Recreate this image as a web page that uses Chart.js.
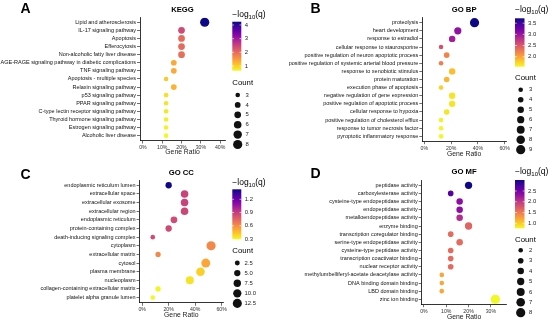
<!DOCTYPE html>
<html>
<head>
<meta charset="utf-8">
<script src="https://cdn.jsdelivr.net/npm/chart.js@4.4.1/dist/chart.umd.min.js"></script>
<style>
  html, body { margin: 0; padding: 0; background: #fff; }
  #wrap { position: relative; width: 550px; height: 323px; overflow: hidden; }
  canvas { position: absolute; }
</style>
</head>
<body>
<div id="wrap">
  <canvas id="cA" width="275" height="161" style="left:0;top:0"></canvas>
  <canvas id="cB" width="275" height="161" style="left:275px;top:0"></canvas>
  <canvas id="cC" width="275" height="162" style="left:0;top:161px"></canvas>
  <canvas id="cD" width="275" height="162" style="left:275px;top:161px"></canvas>
</div>
<script>
// ---- KEGG ----
const keggTerms = ['Lipid and atherosclerosis', 'IL-17 signaling pathway', 'Apoptosis', 'Efferocytosis',
  'Non-alcoholic fatty liver disease', 'AGE-RAGE signaling pathway in diabetic complications', 'TNF signaling pathway',
  'Apoptosis - multiple species', 'Relaxin signaling pathway', 'p53 signaling pathway', 'PPAR signaling pathway',
  'C-type lectin receptor signaling pathway', 'Thyroid hormone signaling pathway', 'Estrogen signaling pathway',
  'Alcoholic liver disease'];
const keggRatio = [0.32, 0.20, 0.20, 0.20, 0.20, 0.16, 0.16, 0.12, 0.16, 0.12, 0.12, 0.12, 0.12, 0.12, 0.12];
const keggCount = [8, 5, 5, 5, 5, 4, 4, 3, 4, 3, 3, 3, 3, 3, 3];
const keggLogQ = [4.24, 2.4, 2.0, 2.0, 1.95, 1.35, 1.35, 1.05, 1.25, 0.85, 0.82, 0.78, 0.74, 0.70, 0.656];
const keggXTicks = [0, 0.1, 0.2, 0.3, 0.4];
const keggQTicks = [1, 2, 3, 4];
const keggCountBreaks = [3, 4, 5, 6, 7, 8];

// ---- GO BP ----
const bpTerms = ['proteolysis', 'heart development', 'response to estradiol', 'cellular response to staurosporine',
  'positive regulation of neuron apoptotic process', 'positive regulation of systemic arterial blood pressure',
  'response to xenobiotic stimulus', 'protein maturation', 'execution phase of apoptosis',
  'negative regulation of gene expression', 'positive regulation of apoptotic process', 'cellular response to hypoxia',
  'positive regulation of cholesterol efflux', 'response to tumor necrosis factor', 'pyroptotic inflammatory response'];
const bpRatio = [0.375, 0.25, 0.208, 0.125, 0.167, 0.125, 0.208, 0.167, 0.125, 0.208, 0.208, 0.167, 0.125, 0.125, 0.125];
const bpCount = [9, 6, 5, 3, 4, 3, 5, 4, 3, 5, 5, 4, 3, 3, 3];
const bpLogQ = [3.72, 3.05, 2.95, 2.55, 2.2, 2.25, 1.85, 1.9, 1.75, 1.65, 1.65, 1.65, 1.58, 1.56, 1.55];
const bpXTicks = [0, 0.2, 0.4, 0.6];
const bpQTicks = [2.0, 2.5, 3.0, 3.5];
const bpCountBreaks = [3, 4, 5, 6, 7, 8, 9];

// ---- GO CC ----
const ccTerms = ['endoplasmic reticulum lumen', 'extracellular space', 'extracellular exosome', 'extracellular region',
  'endoplasmic reticulum', 'protein-containing complex', 'death-inducing signaling complex', 'cytoplasm',
  'extracellular matrix', 'cytosol', 'plasma membrane', 'nucleoplasm', 'collagen-containing extracellular matrix',
  'platelet alpha granule lumen'];
const ccRatio = [0.20, 0.32, 0.32, 0.32, 0.24, 0.20, 0.08, 0.52, 0.12, 0.48, 0.44, 0.36, 0.12, 0.08];
const ccCount = [5, 8, 8, 8, 6, 5, 2, 13, 3, 12, 11, 9, 3, 2];
const ccLogQ = [1.427, 0.87, 0.87, 0.86, 0.84, 0.85, 0.84, 0.62, 0.62, 0.52, 0.40, 0.35, 0.30, 0.293];
const ccXTicks = [0, 0.2, 0.4, 0.6];
const ccQTicks = [0.3, 0.6, 0.9, 1.2];
const ccCountBreaks = [2.5, 5, 7.5, 10, 12.5];

// ---- GO MF ----
const mfTerms = ['peptidase activity', 'carboxylesterase activity', 'cysteine-type endopeptidase activity',
  'endopeptidase activity', 'metalloendopeptidase activity', 'enzyme binding', 'transcription coregulator binding',
  'serine-type endopeptidase activity', 'cysteine-type peptidase activity', 'transcription coactivator binding',
  'nuclear receptor activity', 'methylumbelliferyl-acetate deacetylase activity', 'DNA binding domain binding',
  'LBD domain binding', 'zinc ion binding'];
const mfRatio = [0.20, 0.12, 0.16, 0.16, 0.16, 0.20, 0.12, 0.16, 0.12, 0.12, 0.12, 0.08, 0.08, 0.08, 0.32];
const mfCount = [5, 3, 4, 4, 4, 5, 3, 4, 3, 3, 3, 2, 2, 2, 8];
const mfLogQ = [3.01, 2.67, 2.34, 2.34, 2.1, 1.67, 1.62, 1.62, 1.62, 1.62, 1.62, 1.22, 1.22, 1.22, 0.77];
const mfXTicks = [0, 0.1, 0.2, 0.3];
const mfQTicks = [1.0, 1.5, 2.0, 2.5];
const mfCountBreaks = [2, 3, 4, 5, 6, 7, 8];

const FONT = 'Liberation Sans, Arial, Helvetica, sans-serif';
const R_MIN = 2.3, R_MAX = 4.6;

// plasma colour map
const plasmaStops = ['#0d0887', '#41049d', '#6a00a8', '#8f0da4', '#b12a90', '#cc4778',
  '#e16462', '#f2844b', '#fca636', '#fcce25', '#f0f921'];

function hexToRgb(h) {
  return [parseInt(h.slice(1, 3), 16), parseInt(h.slice(3, 5), 16), parseInt(h.slice(5, 7), 16)];
}

function plasma(t) {
  t = Math.max(0, Math.min(1, t));
  const p = t * (plasmaStops.length - 1);
  const i = Math.min(Math.floor(p), plasmaStops.length - 2);
  const f = p - i;
  const a = hexToRgb(plasmaStops[i]), b = hexToRgb(plasmaStops[i + 1]);
  const c = a.map((v, k) => Math.round(v + (b[k] - v) * f));
  return `rgb(${c[0]},${c[1]},${c[2]})`;
}

// legends, titles and panel letters
const panelDecor = {
  id: 'panelDecor',
  afterDraw(chart, args, o) {
    const ctx = chart.ctx;
    const area = chart.chartArea;
    ctx.save();
    ctx.fillStyle = '#000';

    ctx.font = `bold 14px ${FONT}`;
    ctx.textAlign = 'left';
    ctx.textBaseline = 'alphabetic';
    ctx.fillText(o.letter, o.letterX, o.letterY);

    ctx.font = `bold 7.7px ${FONT}`;
    ctx.textAlign = 'center';
    ctx.textBaseline = 'middle';
    ctx.fillText(o.title, (area.left + area.right) / 2, o.titleY);

    // colour bar title: -log10(q)
    ctx.textAlign = 'left';
    ctx.textBaseline = 'alphabetic';
    let x = o.cbX;
    const base = o.qTitleY + 3;
    ctx.font = `8.5px ${FONT}`;
    ctx.fillText('\u2212log', x, base);
    x += ctx.measureText('\u2212log').width;
    ctx.font = `6px ${FONT}`;
    ctx.fillText('10', x, base + 2);
    x += ctx.measureText('10').width;
    ctx.font = `8.5px ${FONT}`;
    ctx.fillText('(q)', x, base);

    // colour bar
    const g = ctx.createLinearGradient(0, o.cbTop, 0, o.cbBottom);
    for (let i = 0; i <= 20; i++) g.addColorStop(i / 20, plasma(i / 20));
    ctx.fillStyle = g;
    ctx.fillRect(o.cbX, o.cbTop, o.cbW, o.cbBottom - o.cbTop);
    ctx.strokeStyle = '#fff';
    ctx.lineWidth = 0.6;
    ctx.font = `5.9px ${FONT}`;
    ctx.fillStyle = '#222';
    ctx.textBaseline = 'middle';
    o.qTicks.forEach(v => {
      const y = o.cbBottom - (v - o.qLo) / (o.qHi - o.qLo) * (o.cbBottom - o.cbTop);
      ctx.beginPath();
      ctx.moveTo(o.cbX, y); ctx.lineTo(o.cbX + 1.8, y);
      ctx.moveTo(o.cbX + o.cbW - 1.8, y); ctx.lineTo(o.cbX + o.cbW, y);
      ctx.stroke();
      ctx.fillText(v.toFixed(o.qDigits), o.cbX + o.cbW + 3.5, y);
    });

    // size legend
    ctx.fillStyle = '#000';
    ctx.font = `7.8px ${FONT}`;
    ctx.textBaseline = 'middle';
    ctx.fillText('Count', o.cbX, o.countTitleY);
    o.countBreaks.forEach((c, i) => {
      const y = o.dotY0 + i * o.dotStep;
      ctx.fillStyle = '#111';
      ctx.beginPath();
      ctx.arc(o.dotX, y, o.rad(c), 0, Math.PI * 2);
      ctx.fill();
      ctx.fillStyle = '#222';
      ctx.font = `5.9px ${FONT}`;
      ctx.fillText(c.toFixed(o.countDigits), o.numX, y);
    });
    ctx.restore();
  }
};

function makeChart(id, d, box, deco) {
  const qLo = Math.min(...d.logQ), qHi = Math.max(...d.logQ);
  const cLo = Math.min(...d.count), cHi = Math.max(...d.count);
  const rad = c => R_MIN + (R_MAX - R_MIN) * (Math.sqrt(c) - Math.sqrt(cLo)) / (Math.sqrt(cHi) - Math.sqrt(cLo));
  const col = v => plasma((qHi - v) / (qHi - qLo));
  const n = d.terms.length;
  const canvas = document.getElementById(id);
  const W = canvas.width, H = canvas.height;

  new Chart(canvas, {
    type: 'bubble',
    data: {
      datasets: [{
        data: d.terms.map((t, i) => ({ x: d.ratio[i], y: i, r: rad(d.count[i]) })),
        backgroundColor: d.logQ.map(col),
        borderWidth: 0,
        hoverBorderWidth: 0
      }]
    },
    options: {
      responsive: false,
      animation: false,
      events: [],
      layout: { padding: { top: box.T, right: W - box.R, left: 0, bottom: 0 } },
      scales: {
        x: {
          type: 'linear',
          min: d.xMin, max: d.xMax,
          afterFit: s => { s.height = H - box.B; },
          afterBuildTicks: s => { s.ticks = d.xTicks.map(v => ({ value: v })); },
          border: { display: true, color: '#000', width: 0.8 },
          grid: { display: true, drawOnChartArea: false, drawTicks: true, tickLength: 3, color: '#333', lineWidth: 0.7 },
          ticks: {
            autoSkip: false, maxRotation: 0, padding: 1,
            color: '#333', font: { family: FONT, size: 5.2 },
            callback: v => Math.round(v * 100) + '%'
          },
          title: {
            display: true, text: 'Gene Ratio', color: '#222',
            font: { family: FONT, size: 6.8 },
            padding: { top: 0, bottom: box.gr }
          }
        },
        y: {
          type: 'linear',
          reverse: true,
          min: -0.6, max: n - 0.4,
          afterFit: s => { s.width = box.L; },
          afterBuildTicks: s => { s.ticks = d.terms.map((t, i) => ({ value: i })); },
          border: { display: true, color: '#000', width: 0.8 },
          grid: { display: true, drawOnChartArea: false, drawTicks: true, tickLength: 3, color: '#333', lineWidth: 0.7 },
          ticks: {
            autoSkip: false, padding: 1,
            color: '#111', font: { family: FONT, size: 5.5 },
            callback: v => d.terms[v]
          }
        }
      },
      plugins: {
        legend: { display: false },
        tooltip: { enabled: false },
        panelDecor: Object.assign({ qLo, qHi, rad }, deco)
      }
    },
    plugins: [panelDecor]
  });
}

makeChart('cA',
  { terms: keggTerms, ratio: keggRatio, count: keggCount, logQ: keggLogQ, xTicks: keggXTicks, xMin: -0.015, xMax: 0.425 },
  { L: 140, R: 225, T: 17.4, B: 140.5, gr: 4.4 },
  { letter: 'A', letterX: 20.5, letterY: 13, title: 'KEGG', titleY: 10,
    cbX: 232.3, cbW: 9, cbTop: 21.7, cbBottom: 70.7, qTitleY: 14, qTicks: keggQTicks, qDigits: 0,
    countTitleY: 83, countBreaks: keggCountBreaks, countDigits: 0, dotX: 237.7, dotY0: 95, dotStep: 9.9, numX: 245.5 });

makeChart('cB',
  { terms: bpTerms, ratio: bpRatio, count: bpCount, logQ: bpLogQ, xTicks: bpXTicks, xMin: -0.015, xMax: 0.61 },
  { L: 147.3, R: 231, T: 17.8, B: 141.2, gr: 2.6 },
  { letter: 'B', letterX: 35.5, letterY: 13, title: 'GO BP', titleY: 9.7,
    cbX: 240, cbW: 9.5, cbTop: 18.3, cbBottom: 66.7, qTitleY: 9, qTicks: bpQTicks, qDigits: 1,
    countTitleY: 78, countBreaks: bpCountBreaks, countDigits: 0, dotX: 245.7, dotY0: 89.7, dotStep: 10, numX: 254 });

makeChart('cC',
  { terms: ccTerms, ratio: ccRatio, count: ccCount, logQ: ccLogQ, xTicks: ccXTicks, xMin: -0.02, xMax: 0.61 },
  { L: 139.5, R: 223, T: 19.1, B: 141.8, gr: 3.6 },
  { letter: 'C', letterX: 20.5, letterY: 17.7, title: 'GO CC', titleY: 11.7,
    cbX: 232.3, cbW: 9, cbTop: 28.3, cbBottom: 78.3, qTitleY: 21, qTicks: ccQTicks, qDigits: 1,
    countTitleY: 89.7, countBreaks: ccCountBreaks, countDigits: 1, dotX: 237.3, dotY0: 102, dotStep: 10.1, numX: 244.5 });

makeChart('cD',
  { terms: mfTerms, ratio: mfRatio, count: mfCount, logQ: mfLogQ, xTicks: mfXTicks, xMin: -0.01, xMax: 0.37 },
  { L: 146.7, R: 231.5, T: 19.4, B: 143.2, gr: 2.2 },
  { letter: 'D', letterX: 35.5, letterY: 17.3, title: 'GO MF', titleY: 11.3,
    cbX: 240, cbW: 9.5, cbTop: 19, cbBottom: 67.3, qTitleY: 10, qTicks: mfQTicks, qDigits: 1,
    countTitleY: 79, countBreaks: mfCountBreaks, countDigits: 0, dotX: 245.7, dotY0: 89.3, dotStep: 10.4, numX: 254 });
</script>
</body>
</html>
